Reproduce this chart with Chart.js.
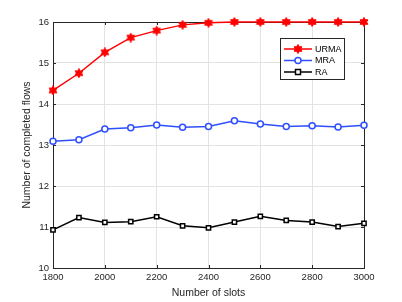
<!DOCTYPE html>
<html>
<head>
<meta charset="utf-8">
<script src="https://cdn.jsdelivr.net/npm/chart.js@4"></script>
<style>
    html, body { margin: 0; padding: 0; background: #fff; }
    #wrap { width: 402px; height: 302px; }
</style>
</head>
<body>
<div id="wrap"><canvas id="chart" width="402" height="302"></canvas></div>
<script>
// Chart data
const slots = [1800, 1900, 2000, 2100, 2200, 2300, 2400, 2500, 2600, 2700, 2800, 2900, 3000];
const urmaValues = [14.33, 14.75, 15.26, 15.62, 15.79, 15.93, 15.98, 16, 16, 16, 16, 16, 16];
const mraValues = [13.09, 13.13, 13.39, 13.42, 13.49, 13.43, 13.45, 13.59, 13.51, 13.45, 13.47, 13.44, 13.48];
const raValues = [10.93, 11.23, 11.11, 11.13, 11.25, 11.03, 10.98, 11.12, 11.26, 11.16, 11.12, 11.01, 11.09];
const xTicks = [1800, 2000, 2200, 2400, 2600, 2800, 3000];
const yTicks = [10, 11, 12, 13, 14, 15, 16];

const AXIS_COLOR = '#262626';
const GRID_COLOR = '#e3e3e3';
const FONT = 'Liberation Sans, Arial, Helvetica, sans-serif';
const RED = '#ff0000';
const BLUE = '#2f4fff';
const BLACK = '#000000';

// Hexagram marker for URMA, drawn once on a small canvas
function makeHexagram(color) {
    const size = 10;
    const c = document.createElement('canvas');
    c.width = size;
    c.height = size;
    const g = c.getContext('2d');
    const cx = size / 2, cy = size / 2;
    const outer = 4.5, inner = 2.6;
    g.beginPath();
    for (let i = 0; i < 12; i++) {
        const r = i % 2 === 0 ? outer : inner;
        const a = -Math.PI / 2 + i * Math.PI / 6;
        const px = cx + r * Math.cos(a);
        const py = cy + r * Math.sin(a);
        if (i === 0) g.moveTo(px, py); else g.lineTo(px, py);
    }
    g.closePath();
    g.fillStyle = color;
    g.fill();
    g.strokeStyle = color;
    g.lineWidth = 1;
    g.stroke();
    return c;
}
const hexagram = makeHexagram(RED);

// Full box, inward ticks and legend like the MATLAB figure
const boxPlugin = {
    id: 'boxPlugin',
    beforeDatasetsDraw(chart) {
        const { ctx, chartArea: a, scales } = chart;
        ctx.save();
        ctx.strokeStyle = AXIS_COLOR;
        ctx.lineWidth = 1;
        ctx.beginPath();
        xTicks.forEach(v => {
            const px = Math.round(scales.x.getPixelForValue(v)) + 0.5;
            ctx.moveTo(px, a.bottom); ctx.lineTo(px, a.bottom - 3);
            ctx.moveTo(px, a.top); ctx.lineTo(px, a.top + 3);
        });
        yTicks.forEach(v => {
            const py = Math.round(scales.y.getPixelForValue(v)) + 0.5;
            ctx.moveTo(a.left, py); ctx.lineTo(a.left + 3, py);
            ctx.moveTo(a.right, py); ctx.lineTo(a.right - 3, py);
        });
        ctx.stroke();
        ctx.strokeRect(Math.round(a.left) + 0.5, Math.round(a.top) + 0.5,
            Math.round(a.right - a.left), Math.round(a.bottom - a.top));
        ctx.restore();
    },
    afterDatasetsDraw(chart) {
        const { ctx } = chart;
        ctx.save();
        // Legend
        const lx = 280.5, ly = 38.5, lw = 64, lh = 41;
        ctx.fillStyle = '#ffffff';
        ctx.fillRect(lx, ly, lw, lh);
        ctx.strokeStyle = AXIS_COLOR;
        ctx.lineWidth = 1;
        ctx.strokeRect(lx, ly, lw, lh);
        chart.data.datasets.forEach((ds, i) => {
            const y = 49 + i * 11.5;
            ctx.strokeStyle = ds.borderColor;
            ctx.lineWidth = 1.5;
            ctx.beginPath();
            ctx.moveTo(284, y); ctx.lineTo(312, y);
            ctx.stroke();
            const mx = 298;
            if (ds.pointStyle === hexagram) {
                ctx.drawImage(hexagram, mx - 5, y - 5);
            } else if (ds.pointStyle === 'circle') {
                ctx.beginPath();
                ctx.arc(mx, y, 3, 0, Math.PI * 2);
                ctx.fillStyle = '#fff';
                ctx.fill();
                ctx.stroke();
            } else {
                ctx.fillStyle = '#fff';
                ctx.fillRect(mx - 2.5, y - 2.5, 5, 5);
                ctx.strokeRect(mx - 2.5, y - 2.5, 5, 5);
            }
            ctx.fillStyle = '#000';
            ctx.font = '9px ' + FONT;
            ctx.textBaseline = 'middle';
            ctx.textAlign = 'left';
            ctx.fillText(ds.label, 315, y + 0.5);
        });
        ctx.restore();
    }
};

function createChart() {
    const ctx = document.getElementById('chart').getContext('2d');
    return new Chart(ctx, {
        type: 'line',
        data: {
            labels: slots,
            datasets: [{
                label: 'URMA',
                data: slots.map((s, i) => ({ x: s, y: urmaValues[i] })),
                borderColor: RED,
                backgroundColor: RED,
                borderWidth: 1.5,
                pointStyle: hexagram,
                pointRadius: 4,
                clip: false
            }, {
                label: 'MRA',
                data: slots.map((s, i) => ({ x: s, y: mraValues[i] })),
                borderColor: BLUE,
                backgroundColor: '#ffffff',
                borderWidth: 1.5,
                pointStyle: 'circle',
                pointRadius: 3,
                pointBorderWidth: 1.5,
                clip: false
            }, {
                label: 'RA',
                data: slots.map((s, i) => ({ x: s, y: raValues[i] })),
                borderColor: BLACK,
                backgroundColor: '#ffffff',
                borderWidth: 1.5,
                pointStyle: 'rect',
                pointRadius: 3,
                pointBorderWidth: 1.5,
                clip: false
            }]
        },
        options: {
            responsive: false,
            animation: false,
            layout: { padding: { top: 22, right: 38, left: 0, bottom: 0 } },
            plugins: {
                legend: { display: false },
                tooltip: { enabled: false }
            },
            scales: {
                x: {
                    type: 'linear',
                    min: 1800,
                    max: 3000,
                    afterBuildTicks: s => { s.ticks = xTicks.map(v => ({ value: v })); },
                    afterFit: s => { s.height = 34; },
                    grid: { color: GRID_COLOR, drawTicks: false },
                    border: { display: false },
                    ticks: {
                        color: AXIS_COLOR,
                        font: { family: FONT, size: 9.5 },
                        padding: 4,
                        maxRotation: 0,
                        callback: v => String(v)
                    },
                    title: {
                        display: true,
                        text: 'Number of slots',
                        color: AXIS_COLOR,
                        font: { family: FONT, size: 10.5 },
                        padding: { top: 0, bottom: 3 }
                    }
                },
                y: {
                    min: 10,
                    max: 16,
                    afterBuildTicks: s => { s.ticks = yTicks.map(v => ({ value: v })); },
                    afterFit: s => { s.width = 53; },
                    grid: { color: GRID_COLOR, drawTicks: false },
                    border: { display: false },
                    ticks: {
                        color: AXIS_COLOR,
                        font: { family: FONT, size: 9.5 },
                        padding: 4,
                        callback: v => String(v)
                    },
                    title: {
                        display: true,
                        text: 'Number of completed flows',
                        color: AXIS_COLOR,
                        font: { family: FONT, size: 10.5 },
                        padding: { top: 21, bottom: 0 }
                    }
                }
            }
        },
        plugins: [boxPlugin]
    });
}

document.addEventListener('DOMContentLoaded', function() {
    createChart();
});
</script>
</body>
</html>
